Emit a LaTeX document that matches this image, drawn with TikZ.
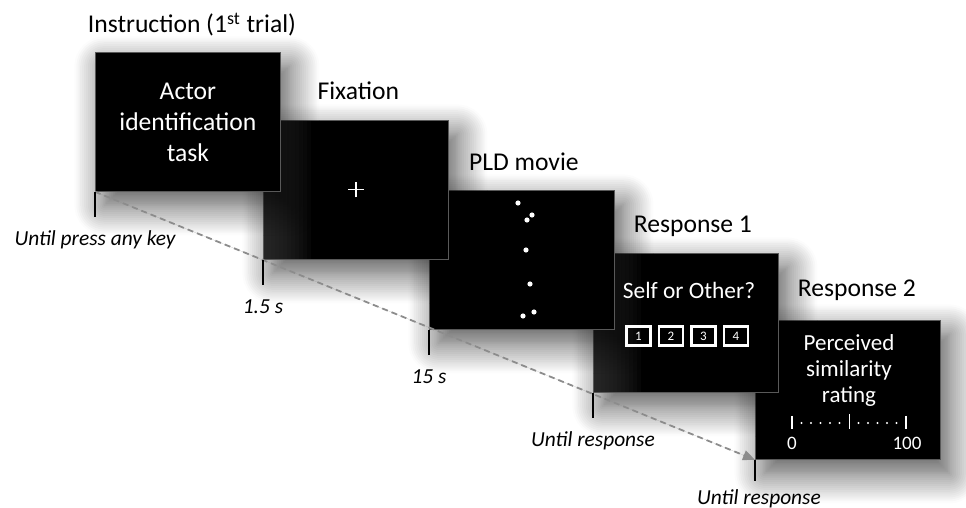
\documentclass[tikz,border=0pt]{standalone}
\usepackage{fontspec}
\setmainfont{Carlito}
\usetikzlibrary{positioning,arrows.meta,shadows.blur}

\begin{document}
\begin{tikzpicture}[
  x=0.5pt, y=-0.5pt,
  screen/.style={fill=black, draw=black!65, line width=0.4pt, anchor=north west, inner sep=0pt,
    minimum width=92.5pt, minimum height=69.5pt,
    blur shadow={shadow xshift=4.5pt, shadow yshift=-7pt, shadow blur radius=15pt, shadow blur steps=16, shadow opacity=70}},
  lit/.style={path picture={\foreach \i in {1,...,12}
    \fill[black!80, opacity=0.12] (path picture bounding box.north west) rectangle ([xshift=\i*2pt]path picture bounding box.south west);}},
  title/.style={anchor=base, font=\fontsize{12.8}{15}\selectfont},
  dur/.style={anchor=base, font=\fontsize{10.7}{12}\selectfont\itshape},
  tickline/.style={line width=0.8pt},
  inscreen/.style={text=white, align=center},
  keybox/.style={draw=white, line width=1.1pt, text=white, inner sep=0pt, minimum width=12pt, minimum height=9.5pt, font=\fontsize{6.5}{7}\selectfont},
  timeline/.style={dash pattern=on 3pt off 2pt, draw=black!45, line width=0.9pt, -{Triangle[length=6pt, width=5pt]}, fill=black!45}
]
\path[use as bounding box] (0,0) rectangle (966,508);

% screens, last one first so earlier ones lie on top
\node[screen] (resp2) at (755,320) {};
\node[screen, lit] (resp1) at (593,253) {};
\node[screen] (pld) at (429,190) {};
\node[screen, lit] (fix) at (263,120) {};
\node[screen, inscreen, font=\fontsize{12.8}{15.5}\selectfont] (instr) at (95,52) {Actor\\identification\\task};

\node[title] (instrtitle) at ([xshift=2pt, yshift=9.5pt]instr.north) {Instruction (1\textsuperscript{st} trial)};
\node[title] (fixtitle) at ([xshift=1.2pt, yshift=10pt]fix.north) {Fixation};
\node[title] (pldtitle) at ([xshift=1pt, yshift=9.5pt]pld.north) {PLD movie};
\node[title] (resp1title) at ([xshift=3.5pt, yshift=10pt]resp1.north) {Response 1};
\node[title] (resp2title) at ([xshift=4.5pt, yshift=11.5pt]resp2.north) {Response 2};

\draw[timeline] (instr.south west) -- (resp2.south west);

\foreach \s/\lab in {instr/Until press any key, fix/1.5 s, pld/15 s, resp1/Until response} {
  \draw[tickline] (\s.south west) -- ++(0,25) coordinate (\s-end);
  \node[dur] (\s-dur) at ([yshift=-14.5pt]\s-end) {\lab};
}
\draw[tickline] (resp2.south west) -- ++(0,21) coordinate (resp2-end);
\node[dur] (resp2-dur) at ([xshift=2pt, yshift=-12pt]resp2-end) {Until response};

% fixation cross
\draw[white, line width=0.6pt] ([xshift=-3.8pt]fix.center) -- ([xshift=3.8pt]fix.center)
  ([yshift=-3.8pt]fix.center) -- ([yshift=3.8pt]fix.center);

% point-light dots
\foreach \p in {(518,203),(532,215),(527,220),(526,250),(530,284),(523,316),(534,312)}
  \fill[white] \p circle[radius=1.3pt];

% response 1
\node[inscreen, anchor=base, font=\fontsize{11.7}{14}\selectfont] (query) at (689,299) {Self or Other?};
\foreach \k in {1,...,4}
  \node[keybox] (key\k) at (606+32.5*\k,336) {\k};

% response 2
\node[inscreen, font=\fontsize{11.5}{13}\selectfont] (rating) at (849,370) {Perceived\\similarity\\rating};
\draw[white, line width=1.3pt] (792,416) -- (792,429) (906,416) -- (906,429);
\draw[white, line width=0.4pt] (849,414) -- (849,429);
\foreach \d in {1,...,5} {
  \fill[white] (792+9.5*\d,423) circle[radius=0.6pt];
  \fill[white] (849+9.5*\d,423) circle[radius=0.6pt];
}
\node[inscreen, anchor=base, font=\fontsize{9.5}{11}\selectfont] (scalelo) at (792,450) {0};
\node[inscreen, anchor=base, font=\fontsize{9.5}{11}\selectfont] (scalehi) at (907,450) {100};
\end{tikzpicture}
\end{document}
